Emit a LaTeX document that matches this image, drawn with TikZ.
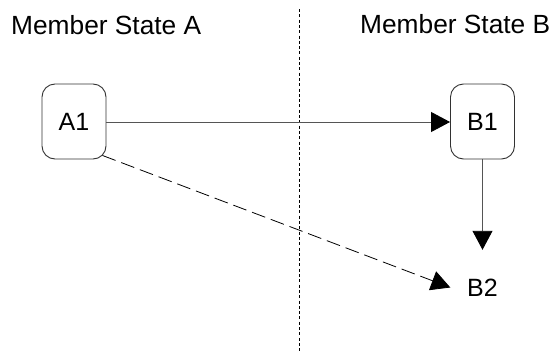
\documentclass[tikz,border=0pt]{standalone}
\usepackage{fontspec}
\setmainfont{Liberation Sans}
\usetikzlibrary{arrows.meta}
\definecolor{linegray}{RGB}{85,85,85}
\definecolor{boxgray}{RGB}{50,50,50}
\begin{document}
\begin{tikzpicture}[x=1pt,y=-1pt,
  statebox/.style={draw=boxgray,line width=0.9pt,rounded corners=13pt,minimum width=64pt,minimum height=75pt,inner sep=0pt,font=\fontsize{25}{29}\selectfont},
  plainbox/.style={minimum width=64pt,minimum height=75pt,inner sep=0pt,font=\fontsize{25}{29}\selectfont},
  header/.style={anchor=base west,inner sep=0pt,font=\fontsize{26.3}{30}\selectfont},
  flow/.style={draw=linegray,line width=0.9pt,-{Triangle[length=19pt,width=20pt,fill=black,color=black]}},
  dflow/.style={draw=black,line width=0.8pt,dash pattern=on 14pt off 6pt,-{Triangle[length=19pt,width=20pt,fill=black,color=black]}},
  border/.style={draw=black,line width=1pt,dash pattern=on 3pt off 2.3pt}]
\useasboundingbox (0,0) rectangle (554,356);
\node[header] (hA) at (11,34) {Member State A};
\node[header] (hB) at (360,33) {Member State B};
\coordinate (top) at (299.5,9);
\coordinate (bot) at (299.5,353);
\draw[border] (top) -- (bot);
\node[statebox] (A1) at (74,121.5) {A1};
\node[statebox] (B1) at (482.5,121.5) {B1};
\node[plainbox] (B2) at (482.5,287.5) {B2};
\draw[flow] (A1.east |- 0,122) -- (B1.west |- 0,122);
\draw[flow] (B1.south) -- (B2.north);
\draw[dflow] ([xshift=-4pt,yshift=4pt]A1.south east) -- (B2.west);
\end{tikzpicture}
\end{document}
